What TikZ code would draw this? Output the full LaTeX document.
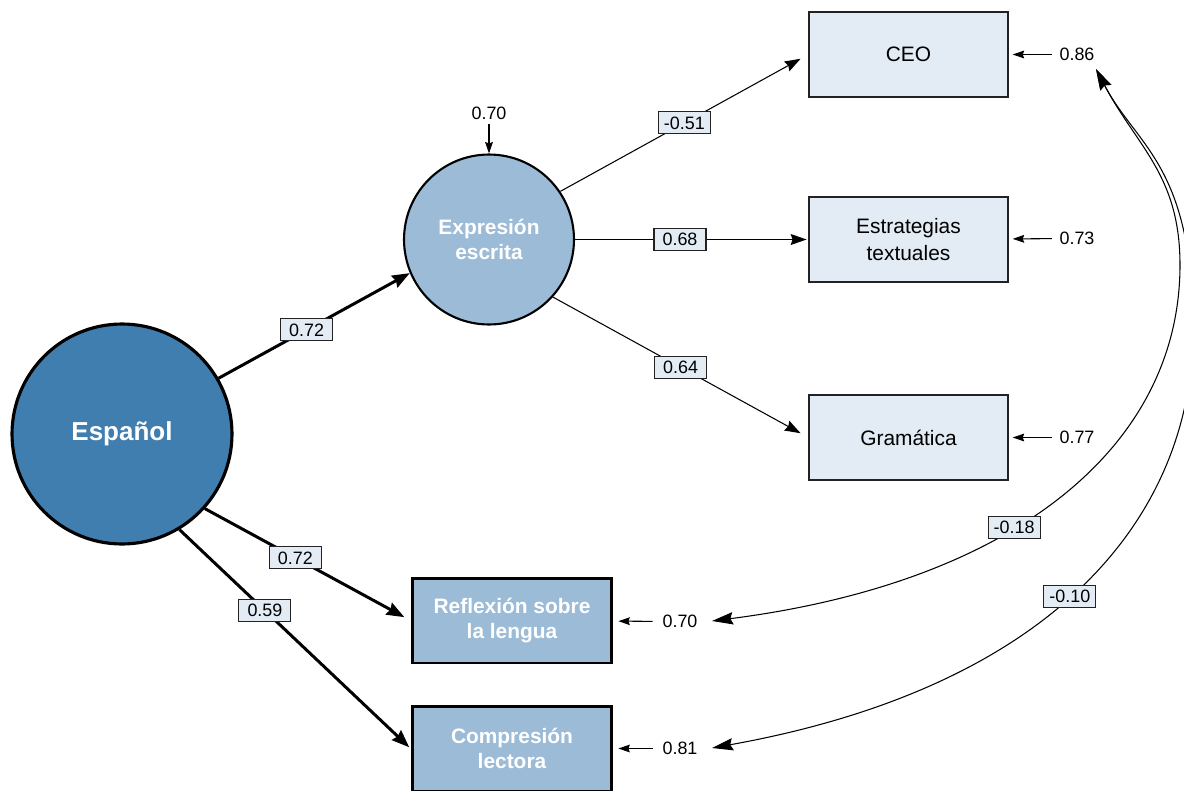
\documentclass[tikz,border=0pt]{standalone}
\usepackage{fontspec}
\setmainfont{Liberation Sans}
\usetikzlibrary{arrows.meta}

\definecolor{espblue}{HTML}{417EB0}
\definecolor{latblue}{HTML}{9BBBD7}
\definecolor{paleblue}{HTML}{E3EBF4}
\definecolor{edgegray}{HTML}{222222}

\tikzset{
  bigfactor/.style={circle, draw=black, line width=1.8pt, fill=espblue, minimum size=4.4cm,
    inner sep=0pt, text=white, font=\fontsize{14.8}{17}\selectfont\bfseries},
  factor/.style={circle, draw=black, line width=1.2pt, fill=latblue, minimum size=3.4cm,
    inner sep=0pt, text=white, align=center, font=\fontsize{11.9}{14.3}\selectfont\bfseries},
  indicator/.style={rectangle, draw=edgegray, line width=0.8pt, fill=paleblue,
    minimum width=3.98cm, minimum height=1.7cm, inner sep=0pt, align=center,
    font=\fontsize{11.9}{15}\selectfont},
  subscale/.style={rectangle, draw=black, line width=1.7pt, fill=latblue,
    minimum width=4cm, minimum height=1.7cm, inner sep=0pt, text=white, align=center,
    font=\fontsize{11.9}{14.3}\selectfont\bfseries},
  coef/.style={rectangle, draw=edgegray, line width=0.6pt, fill=paleblue,
    minimum width=1.04cm, minimum height=0.44cm, inner sep=1pt,
    font=\fontsize{10.2}{12}\selectfont},
  errlbl/.style={inner sep=0pt, font=\fontsize{10.2}{12}\selectfont},
  thickpath/.style={line width=1.7pt, -{Stealth[length=10pt, width=7.5pt, inset=1pt]}},
  thinpath/.style={line width=0.6pt, -{Stealth[length=9pt, width=6.2pt, inset=1pt]}},
  errpath/.style={line width=0.6pt, -{Stealth[length=6.5pt, width=4.4pt, inset=0.8pt]}},
  covpath/.style={line width=0.6pt,
    {Stealth[length=12pt, width=7pt, inset=1.5pt]}-{Stealth[length=12pt, width=7pt, inset=1.5pt]}},
}

\begin{document}
\begin{tikzpicture}[x=0.02cm, y=-0.02cm]
\useasboundingbox (0,0) rectangle (1184,791);
\begin{scope}
\clip (0,0) rectangle (1184,791);

% latent factors
\node[bigfactor] (esp) at (122,434) {Español};
\node[factor] (expr) at (489,239.5) {Expresión\\escrita};

% observed indicators
\node[indicator] (ceo) at (908.5,54.5) {CEO};
\node[indicator] (estr) at (908.5,239.5) {Estrategias\\textuales};
\node[indicator] (gram) at (908.5,437.5) {Gramática};
\node[subscale] (refl) at (512,620.5) {Reflexión sobre\\la lengua};
\node[subscale] (comp) at (512,748.5) {Compresión\\lectora};

% error terms
\node[errlbl] (e86) at (1077,54.5) {0.86};
\node[errlbl] (e73) at (1077,238.5) {0.73};
\node[errlbl] (e77) at (1077,437.5) {0.77};
\node[errlbl] (e70a) at (489,113) {0.70};
\node[errlbl] (e70b) at (680,621.5) {0.70};
\node[errlbl] (e81) at (680,748.5) {0.81};

\draw[errpath, shorten <=4.2pt, shorten >=2.3pt] (e86) -- (ceo);
\draw[errpath, shorten <=4.2pt, shorten >=2.3pt] (e73) -- (estr);
\draw[errpath, shorten <=4.2pt, shorten >=2.3pt] (e77) -- (gram);
\draw[errpath, shorten <=2.5pt] (e70a) -- (expr);
\draw[errpath, shorten <=5.4pt, shorten >=2.8pt] (e70b) -- (refl);
\draw[errpath, shorten <=5.4pt, shorten >=2.8pt] (e81) -- (comp);

% structural paths
\draw[thickpath] (esp.30) -- node[coef, pos=0.46] {0.72} (expr.203);
\draw[thickpath, shorten >=4pt] (esp.-42) -- node[coef, pos=0.44] {0.72} (refl.west);
\draw[thickpath, shorten >=1pt] (esp.-59) -- node[coef, pos=0.37] {0.59} (comp.west);

% loadings
\draw[thinpath, shorten >=5pt] (expr.34) -- node[coef, pos=0.5] {-0.51} (ceo.west);
\draw[thinpath, shorten >=1pt] (expr) -- node[coef, pos=0.45] {0.68} (estr);
\draw[thinpath, shorten >=5pt] (expr.-42) -- node[coef, pos=0.5] {0.64} (gram.west);

% error covariances
\coordinate (c86) at (1096,69);
\coordinate (c70) at (712,621);
\coordinate (c81) at (712,748);
\draw[covpath] (c86) .. controls (1137,147) and (1180,175) .. (1180,265)
  .. controls (1180,445) and (1017,582) .. (c70) node[coef, pos=0.59] {-0.18};
\draw[covpath] (c86) .. controls (1137,147) and (1193,165) .. (1193,330)
  .. controls (1193,510) and (1063,685) .. (c81) node[coef, pos=0.53] {-0.10};
\end{scope}
\end{tikzpicture}
\end{document}
